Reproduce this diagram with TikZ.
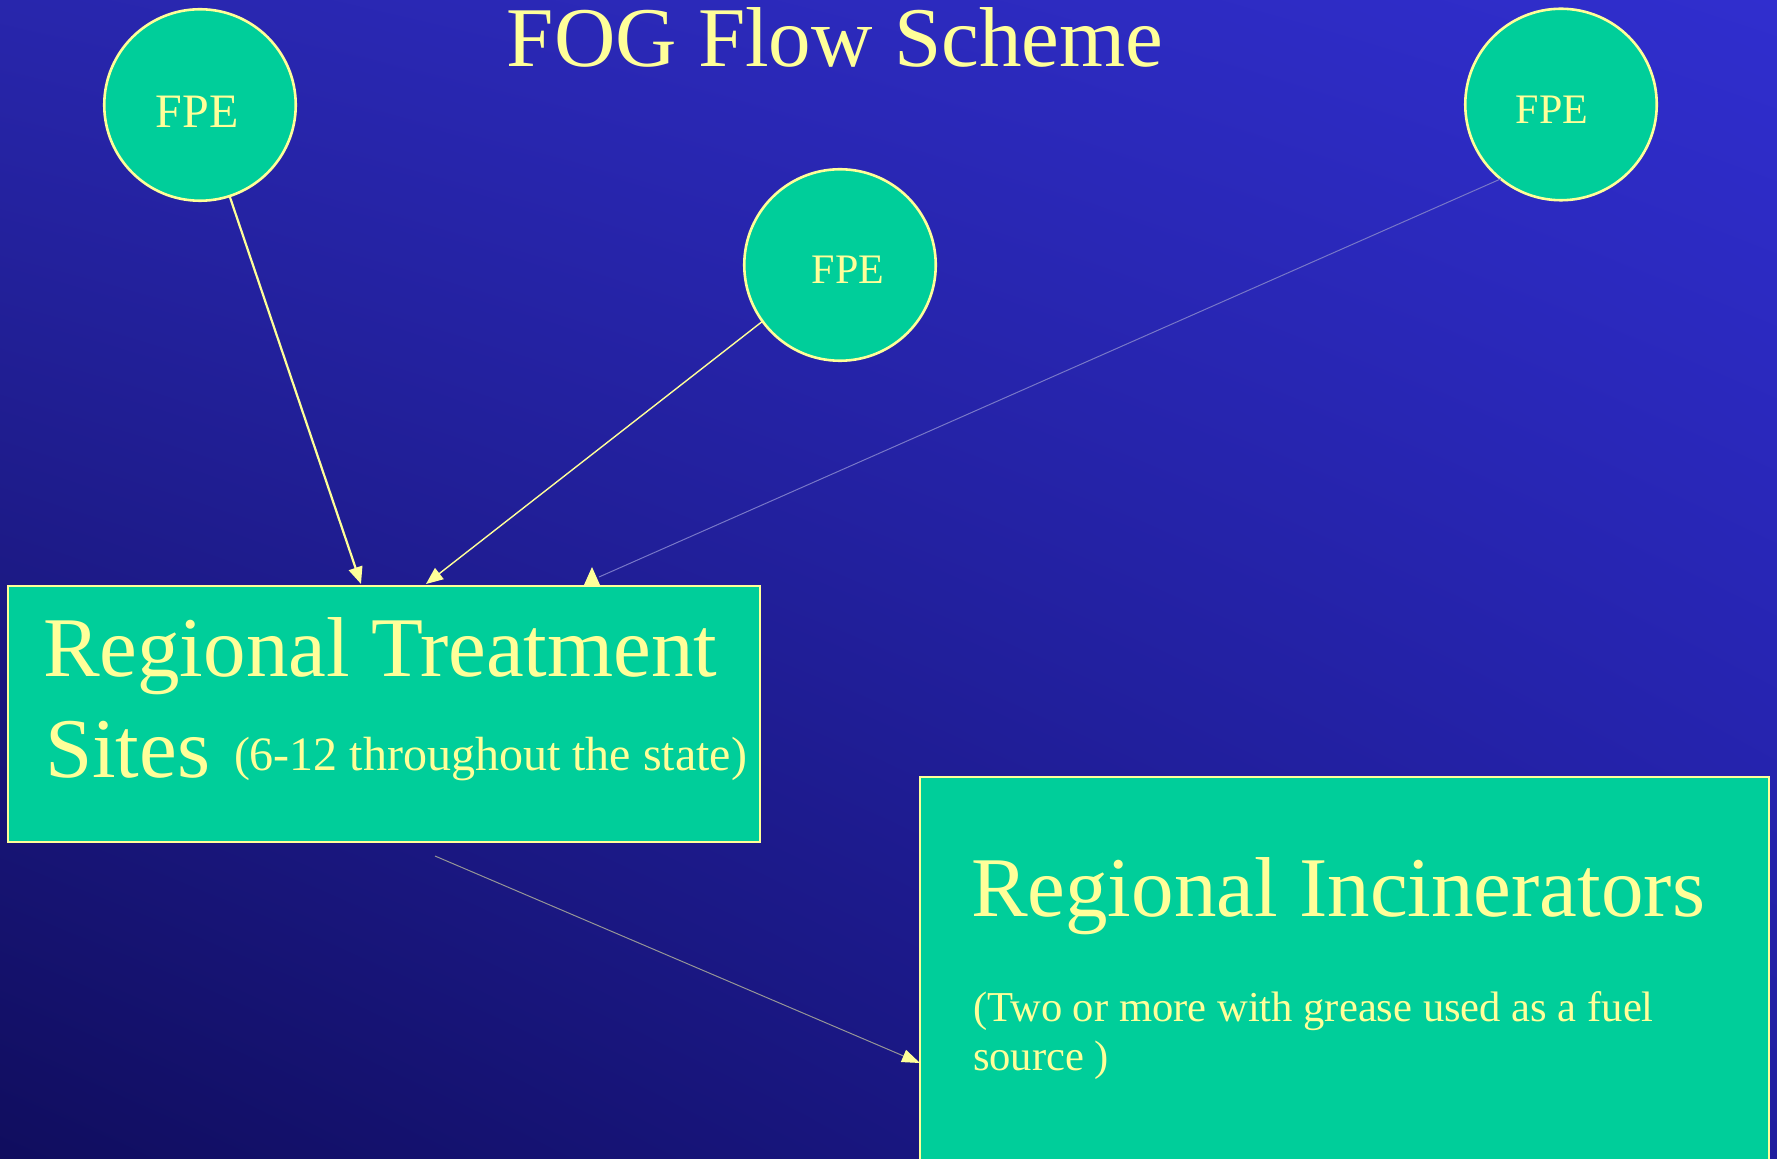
\documentclass[tikz,border=0pt]{standalone}
\usepackage{fontspec}
\setmainfont{Liberation Serif}
\usetikzlibrary{arrows.meta,calc,shadings}
\definecolor{bgUL}{RGB}{40,38,172}
\definecolor{bgUR}{RGB}{48,46,206}
\definecolor{bgLL}{RGB}{16,13,94}
\definecolor{bgLR}{RGB}{32,30,158}
\definecolor{nodegreen}{RGB}{0,206,154}
\definecolor{paleyellow}{RGB}{255,255,153}
\definecolor{faintlav}{RGB}{120,120,200}
\definecolor{faintgray}{RGB}{150,150,150}
\begin{document}
\begin{tikzpicture}[x=0.5pt,y=-0.5pt,
  fpe/.style={circle, draw=paleyellow, fill=nodegreen, line width=1.3pt, minimum size=95.75pt, inner sep=0pt, outer sep=0pt},
  boxnode/.style={rectangle, draw=paleyellow, fill=nodegreen, line width=1.3pt, inner sep=0pt, outer sep=0pt},
  txt/.style={text=paleyellow, inner sep=0pt, outer sep=0pt},
  bigtxt/.style={txt, font=\fontsize{42.5pt}{51pt}\selectfont},
  fpetxt/.style={txt, font=\fontsize{21pt}{25pt}\selectfont, anchor=base},
  conn/.style={line width=0.5pt},
  tip/.style={-{Triangle[length=8.5pt,width=7pt]}}
]
\useasboundingbox (0,0) rectangle (1777,1159);
\clip (0,0) rectangle (1777,1159);
\shade[upper left=bgUL, upper right=bgUR, lower left=bgLL, lower right=bgLR] (0,0) rectangle (1777,1159);

% title
\node[bigtxt, anchor=base, font=\fontsize{42.5pt}{50pt}\selectfont] (title) at (835,67) {FOG Flow Scheme};

% FPE circles
\node[fpe] (fpe1) at (200,105) {};
\node[fpe] (fpe2) at (840,265) {};
\node[fpe] (fpe3) at (1561,104.5) {};
\node[fpetxt, font=\fontsize{24pt}{28pt}\selectfont] (fpe1t) at (197,128) {FPE};
\node[fpetxt] (fpe2t) at (848,284) {FPE};
\node[fpetxt] (fpe3t) at (1552,124) {FPE};

% boxes
\node[boxnode, minimum width=376pt, minimum height=128pt] (rts) at (384,714) {};
\node[boxnode, minimum width=424.5pt, minimum height=211.5pt] (inc) at (1344.5,988.5) {};

% box texts
\node[bigtxt, anchor=base west] (rts1) at (43,677) {Regional Treatment};
\node[bigtxt, anchor=base west] (rts2) at (45,777) {Sites};
\node[txt, anchor=base west, font=\fontsize{24pt}{29pt}\selectfont] (rts3) at (234,770) {(6-12 throughout the state)};
\node[bigtxt, anchor=base west] (inc1) at (971,916) {Regional Incinerators};
\node[txt, anchor=base west, font=\fontsize{21.3pt}{25pt}\selectfont] (inc2) at (973,1021) {(Two or more with grease used as a fuel};
\node[txt, anchor=base west, font=\fontsize{21.3pt}{25pt}\selectfont] (inc3) at (973,1070) {source )};

% connectors
\draw[conn, tip, draw=paleyellow, fill=paleyellow, line width=1.1pt] (fpe1.-72.6) -- ($(rts.north west)+(353,-2)$);
\draw[conn, tip, draw=paleyellow, fill=paleyellow, line width=0.7pt] (fpe2.216) -- ($(rts.north west)+(418,-2)$);
\coordinate (a3end) at ($(rts.north west)+(584,-1)$);
\draw[conn, draw=faintlav] (fpe3.231.5) -- ($(a3end)+(7,-8)$);
\fill[paleyellow] ($(a3end)+(0,-18)$) -- ($(a3end)+(8,0)$) -- ($(a3end)+(-8,0)$) -- cycle;
\draw[conn, draw=faintgray, -{Triangle[length=9pt,width=6.5pt,fill=paleyellow,color=paleyellow]}] ($(rts.south west)+(427,14)$) -- ($(inc.north west)+(0,286)$);
\end{tikzpicture}
\end{document}
